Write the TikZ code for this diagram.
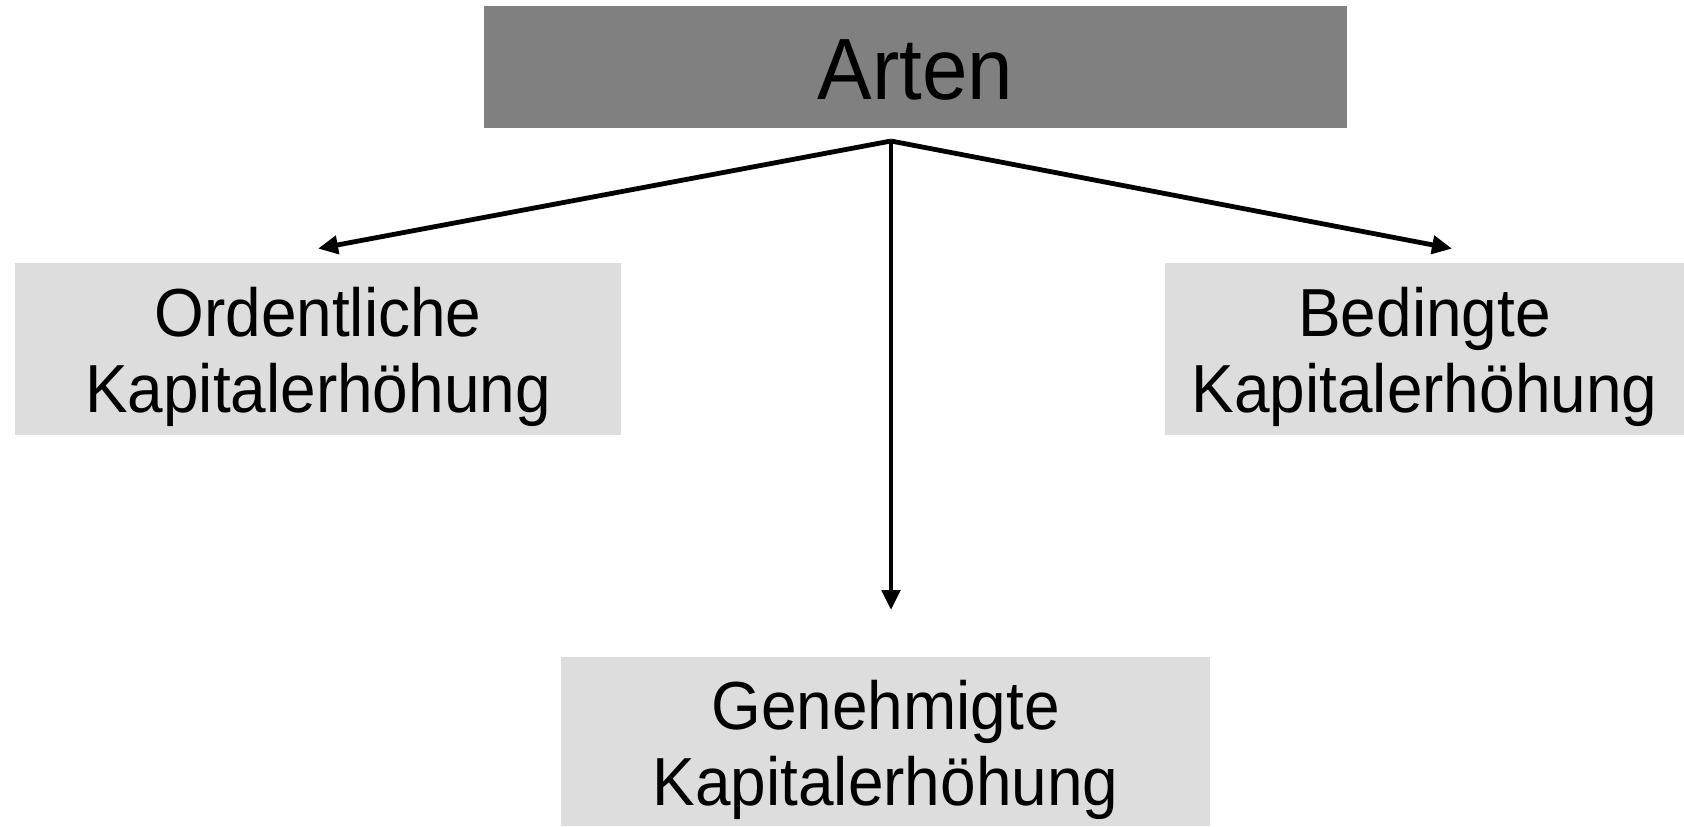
\documentclass[tikz,border=0pt]{standalone}
\usepackage{fontspec}
\setmainfont{Liberation Sans}[FakeStretch=0.94]
\usepackage{tikz}
\usetikzlibrary{
  arrows.meta,
  positioning,
}
\definecolor{artengray}{RGB}{128, 128, 128}
\definecolor{boxgray}{RGB}{221, 221, 221}
\newcommand{\kindstrut}{\rule{0pt}{33pt}}
\tikzstyle{arrow} = [
  -{Triangle[length=10pt,width=9pt]},
  line width=2.4pt,
  black,
]
\tikzstyle{kind} = [
  fill=boxgray,
  align=center,
  inner sep=0,
  font=\fontsize{34pt}{38pt}\selectfont,
]

\begin{document}
\begin{tikzpicture}

        \useasboundingbox (0,0) rectangle (842pt,-413pt);

        \node [fill=artengray, minimum width=431.5pt, minimum height=61pt,
               inner sep=0, font=\fontsize{43.5pt}{48pt}\selectfont]
              (arten) at (457.75pt,-33.5pt) {\rule{0pt}{33pt}Arten};

        \node [kind, minimum width=303pt, minimum height=86pt]
              (ordentlich) at (159pt,-174.5pt)
              {\kindstrut Ordentliche\\Kapitalerhöhung};

        \node [kind, minimum width=259.5pt, minimum height=86pt]
              (bedingt) at (712.25pt,-174.5pt)
              {\kindstrut Bedingte\\Kapitalerhöhung};

        \node [kind, minimum width=324.5pt, minimum height=84.5pt]
              (genehmigt) at (442.75pt,-370.75pt)
              {\kindstrut Genehmigte\\Kapitalerhöhung};

        \coordinate (fork) at (445.5pt,-70.5pt);
        \coordinate (ordentlich-tip) at ([yshift=7pt]ordentlich.north);
        \coordinate (bedingt-tip) at ([xshift=13.75pt,yshift=7pt]bedingt.north);
        \coordinate (genehmigt-tip) at (fork |- 0,-305pt);

        \draw [arrow] (fork) -- (ordentlich-tip);
        \draw [arrow] (fork) -- (bedingt-tip);
        \draw [arrow] (fork) -- (genehmigt-tip);
      \end{tikzpicture}
\end{document}
